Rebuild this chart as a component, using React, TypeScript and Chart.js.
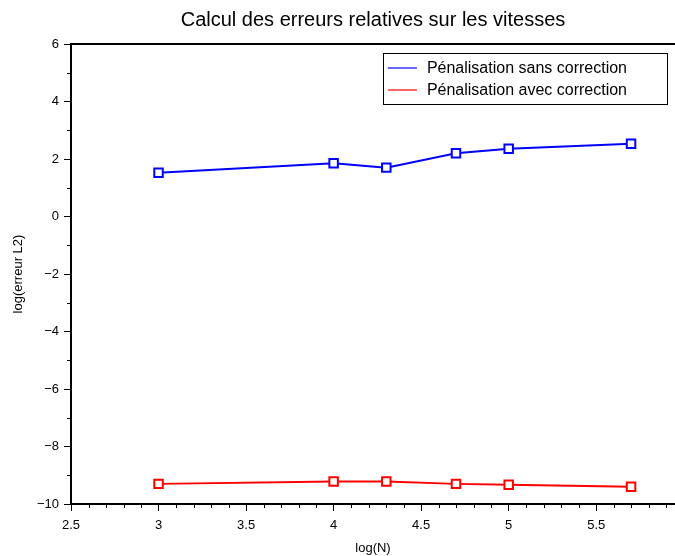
import React, { useEffect, useRef } from "react";
import { Chart, registerables } from "chart.js";

Chart.register(...registerables);

const xValues = [3, 4, 4.301, 4.699, 5, 5.699];
const sansCorrection = [1.52, 1.85, 1.7, 2.2, 2.36, 2.53];
const avecCorrection = [-9.3, -9.22, -9.22, -9.3, -9.33, -9.4];
const xTicks = [2.5, 3, 3.5, 4, 4.5, 5, 5.5];
const yTicks = [-10, -8, -6, -4, -2, 0, 2, 4, 6];
const seriesLabels = ["Pénalisation sans correction", "Pénalisation avec correction"];
const seriesColors = ["#0000ff", "#ff0000"];

const FONT = "'Liberation Sans', Arial, sans-serif";

const framePlugin = {
  id: "frameMinor",
  afterDraw(chart: any) {
    const { ctx, chartArea, scales } = chart;
    const xs = scales.x;
    const ys = scales.y;
    ctx.save();
    ctx.strokeStyle = "#000";
    // top frame line
    ctx.lineWidth = 2;
    ctx.beginPath();
    ctx.moveTo(chartArea.left, chartArea.top);
    ctx.lineTo(chartArea.right, chartArea.top);
    ctx.stroke();
    // minor ticks
    ctx.lineWidth = 1;
    ctx.beginPath();
    for (let i = Math.round(xs.min * 10); i <= Math.floor(xs.max * 10); i++) {
      if (i % 5 === 0) continue;
      const px = Math.round(xs.getPixelForValue(i / 10)) + 0.5;
      ctx.moveTo(px, chartArea.bottom);
      ctx.lineTo(px, chartArea.bottom + 4);
    }
    for (let v = Math.ceil(ys.min); v <= ys.max; v++) {
      if (v % 2 === 0) continue;
      const py = Math.round(ys.getPixelForValue(v)) + 0.5;
      ctx.moveTo(chartArea.left - 4, py);
      ctx.lineTo(chartArea.left, py);
    }
    ctx.stroke();
    // legend box
    const fontSize = 16;
    ctx.font = `${fontSize}px ${FONT}`;
    const labels = chart.data.datasets.map((d: any) => d.label);
    const tw = Math.max(...labels.map((l: string) => ctx.measureText(l).width));
    const boxW = 44 + tw + 40;
    const boxH = 51;
    const right = chartArea.right - 8;
    const left = right - boxW;
    const top = chartArea.top + 9;
    ctx.fillStyle = "#fff";
    ctx.fillRect(left, top, boxW, boxH);
    ctx.lineWidth = 1;
    ctx.strokeStyle = "#000";
    ctx.strokeRect(Math.round(left) + 0.5, Math.round(top) + 0.5, Math.round(boxW), boxH);
    chart.data.datasets.forEach((d: any, i: number) => {
      const cy = top + 15 + i * 22;
      ctx.strokeStyle = d.borderColor;
      ctx.lineWidth = 1.2;
      ctx.beginPath();
      ctx.moveTo(left + 5, cy);
      ctx.lineTo(left + 34, cy);
      ctx.stroke();
      ctx.fillStyle = "#000";
      ctx.textBaseline = "middle";
      ctx.textAlign = "left";
      ctx.fillText(d.label, left + 44, cy + 1);
    });
    ctx.restore();
  },
};

const fmt = (v: number) => String(v).replace("-", "\u2212");

export default function App() {
  const ref = useRef<HTMLCanvasElement>(null);
  useEffect(() => {
    if (!ref.current) return;
    const mk = (vals: number[]) => xValues.map((x, i) => ({ x, y: vals[i] }));
    const ds = [sansCorrection, avecCorrection].map((vals, i) => ({
      label: seriesLabels[i],
      data: mk(vals),
      borderColor: seriesColors[i],
      backgroundColor: "#ffffff",
      borderWidth: 2,
      pointStyle: "rect",
      pointRadius: 6,
      pointBorderWidth: 2,
      pointBackgroundColor: "#ffffff",
      pointBorderColor: seriesColors[i],
      tension: 0,
      fill: false,
    }));
    const chart = new Chart(ref.current, {
      type: "line",
      data: { datasets: ds as any },
      plugins: [framePlugin],
      options: {
        responsive: false,
        animation: false,
        devicePixelRatio: 1,
        layout: { autoPadding: false, padding: { left: 0, right: 0, top: 0, bottom: 0 } },
        plugins: {
          legend: { display: false },
          tooltip: { enabled: false },
          title: {
            display: true,
            fullSize: false,
            text: "Calcul des erreurs relatives sur les vitesses",
            color: "#000",
            font: { family: FONT, size: 20, weight: "normal" },
            padding: { top: 8, bottom: 12 },
          },
        },
        scales: {
          x: {
            type: "linear",
            min: 2.5,
            max: 5.95,
            afterBuildTicks: (s: any) => {
              s.ticks = xTicks.map((v) => ({ value: v }));
            },
            afterFit: (s: any) => {
              s.height = 52;
              s.paddingRight = 0;
              s.paddingLeft = 0;
            },
            ticks: {
              color: "#000",
              font: { family: FONT, size: 13 },
              padding: 7,
              maxRotation: 0,
              autoSkip: false,
              callback: (v: any) => fmt(v),
            },
            grid: { drawOnChartArea: false, drawTicks: true, tickLength: 7, color: "#000", lineWidth: 1 },
            border: { display: true, color: "#000", width: 2 },
            title: {
              display: true,
              text: "log(N)",
              color: "#000",
              font: { family: FONT, size: 13 },
              padding: { top: 0, bottom: 0 },
            },
          },
          y: {
            type: "linear",
            min: -10,
            max: 6,
            afterBuildTicks: (s: any) => {
              s.ticks = yTicks.map((v) => ({ value: v }));
            },
            afterFit: (s: any) => {
              s.width = 71;
            },
            ticks: {
              color: "#000",
              font: { family: FONT, size: 13 },
              padding: 5,
              autoSkip: false,
              callback: (v: any) => fmt(v),
            },
            grid: { drawOnChartArea: false, drawTicks: true, tickLength: 7, color: "#000", lineWidth: 1 },
            border: { display: true, color: "#000", width: 2 },
            title: {
              display: true,
              text: "log(erreur L2)",
              color: "#000",
              font: { family: FONT, size: 13 },
              padding: { top: 11, bottom: 0 },
            },
          },
        },
      },
    });
    return () => chart.destroy();
  }, []);
  return (
    <div style={{ position: "fixed", left: 0, top: 0, width: 675, height: 556, background: "#fff" }}>
      <canvas ref={ref} width={675} height={556} style={{ display: "block" }} />
    </div>
  );
}
